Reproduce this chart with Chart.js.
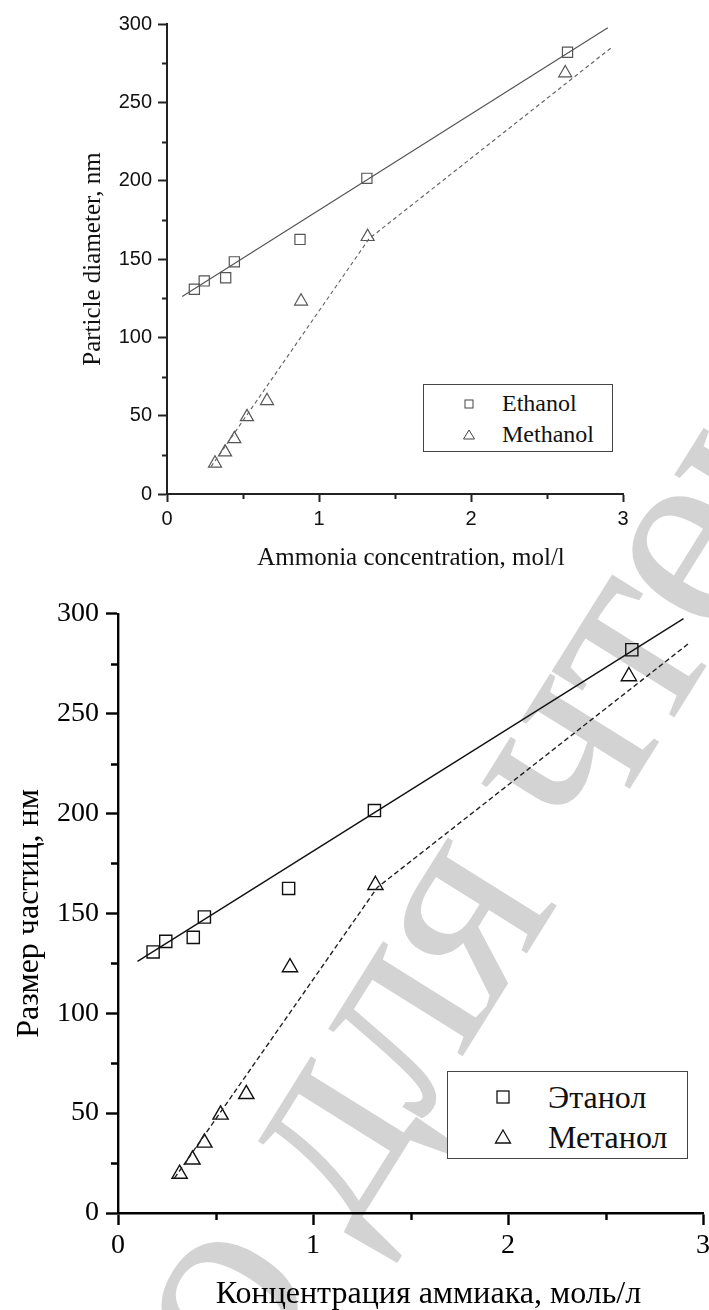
<!DOCTYPE html>
<html lang="ru">
<head>
<meta charset="utf-8">
<title>Particle diameter vs ammonia concentration</title>
<script src="https://cdn.jsdelivr.net/npm/chart.js@4.4.1/dist/chart.umd.min.js"></script>
<style>
    html, body { margin: 0; padding: 0; background: #fff; }
    body { position: relative; width: 709px; height: 1310px; overflow: hidden; }
    .watermark {
        position: absolute; left: 515px; top: 795px; z-index: 0;
        transform: translate(-50%, -50%) rotate(-58deg);
        font-family: "Liberation Serif", serif; font-size: 280px; line-height: 1;
        letter-spacing: -8px; color: #d3d3d3; white-space: nowrap;
    }
    canvas { position: absolute; left: 0; z-index: 1; }
    #chartTop { top: 0; }
    #chartBottom { top: 590px; }
    .legend {
        position: absolute; z-index: 2; box-sizing: border-box;
        background: #fff; border: 1px solid #444;
        font-family: "Liberation Serif", serif; color: #111;
    }
    .legend .item { display: flex; align-items: center; }
    .legend svg { display: block; }
    #legendTop { left: 423px; top: 384px; width: 190px; height: 68px; padding: 3px 0 0 38px; font-size: 24px; }
    #legendTop .item { height: 31px; }
    #legendTop span { margin-left: 26px; }
    #legendBottom { left: 447px; top: 1071px; width: 241px; height: 88px; padding: 5px 0 0 46px; font-size: 32px; }
    #legendBottom .item { height: 40px; }
    #legendBottom span { margin-left: 36px; }
</style>
</head>
<body>
<div class="watermark">го для чтения</div>
<canvas id="chartTop" width="720" height="590"></canvas>
<canvas id="chartBottom" width="720" height="720"></canvas>

<div class="legend" id="legendTop">
    <div class="item"><svg width="14" height="14"><rect x="3" y="3" width="8" height="8" fill="none" stroke="#444" stroke-width="1"/></svg><span>Ethanol</span></div>
    <div class="item"><svg width="14" height="14"><polygon points="7,2 12.5,11 1.5,11" fill="none" stroke="#444" stroke-width="1"/></svg><span>Methanol</span></div>
</div>
<div class="legend" id="legendBottom">
    <div class="item"><svg width="18" height="18"><rect x="3" y="3" width="12" height="12" fill="none" stroke="#111" stroke-width="1.3"/></svg><span>Этанол</span></div>
    <div class="item"><svg width="18" height="18"><polygon points="9,2 16.5,15 1.5,15" fill="none" stroke="#111" stroke-width="1.3"/></svg><span>Метанол</span></div>
</div>

<script>
// Data (both charts show the same measurements)
const concEthanol = [0.18, 0.245, 0.386, 0.443, 0.875, 1.315, 2.635];
const sizeEthanol = [130.7, 136, 138, 148.2, 162.5, 201.5, 282];
const concMethanol = [0.316, 0.382, 0.443, 0.526, 0.658, 0.882, 1.32, 2.62];
const sizeMethanol = [19.6, 26.7, 35.2, 49.2, 59.5, 123, 164.2, 268.7];

// fitted lines
const fitEthanolX = [0.1, 2.9];
const fitEthanolY = [126, 297.6];
const fitMethanolX = [0.29, 1.33, 2.93];
const fitMethanolY = [17.5, 163, 285.4];

// ticks
const xTicks = [0, 1, 2, 3];
const yTicks = [0, 50, 100, 150, 200, 250, 300];
const xMinor = [0.5, 1.5, 2.5];
const yMinor = [25, 75, 125, 175, 225, 275];

function toPoints(xs, ys) {
    return xs.map((x, i) => ({ x: x, y: ys[i] }));
}

// Minor ticks drawn outside the axes, on the library scales
const minorTicks = {
    id: 'minorTicks',
    afterDraw(chart, args, o) {
        const { ctx, scales: { x, y } } = chart;
        ctx.save();
        ctx.strokeStyle = o.color;
        ctx.lineWidth = o.width;
        ctx.beginPath();
        xMinor.forEach(v => {
            const px = Math.round(x.getPixelForValue(v)) + 0.5;
            ctx.moveTo(px, x.top);
            ctx.lineTo(px, x.top + o.length);
        });
        yMinor.forEach(v => {
            const py = Math.round(y.getPixelForValue(v)) + 0.5;
            ctx.moveTo(y.right, py);
            ctx.lineTo(y.right - o.length, py);
        });
        ctx.stroke();
        ctx.restore();
    }
};

// x axis title (sits a little right of the axis centre in the original)
const xTitle = {
    id: 'xTitle',
    afterDraw(chart, args, o) {
        const { ctx, scales: { x } } = chart;
        ctx.save();
        ctx.font = o.font;
        ctx.fillStyle = o.color;
        ctx.textAlign = 'center';
        ctx.textBaseline = 'alphabetic';
        ctx.fillText(o.text, (x.left + x.right) / 2 + o.shift, x.top + o.baseline);
        ctx.restore();
    }
};

function buildChart(canvasId, s) {
    return new Chart(document.getElementById(canvasId), {
        type: 'scatter',
        data: {
            datasets: [
                {
                    label: 'fit1',
                    data: toPoints(fitEthanolX, fitEthanolY),
                    showLine: true,
                    borderColor: s.lineColor,
                    borderWidth: s.lineWidth,
                    pointRadius: 0
                },
                {
                    label: 'fit2',
                    data: toPoints(fitMethanolX, fitMethanolY),
                    showLine: true,
                    borderColor: s.dashColor,
                    borderWidth: s.lineWidth,
                    borderDash: s.dash,
                    pointRadius: 0
                },
                {
                    label: s.names[0],
                    data: toPoints(concEthanol, sizeEthanol),
                    pointStyle: 'rect',
                    pointRadius: s.rectR,
                    borderColor: s.markColor,
                    borderWidth: s.markWidth,
                    backgroundColor: 'rgba(0,0,0,0)'
                },
                {
                    label: s.names[1],
                    data: toPoints(concMethanol, sizeMethanol),
                    pointStyle: 'triangle',
                    pointRadius: s.triR,
                    borderColor: s.markColor,
                    borderWidth: s.markWidth,
                    backgroundColor: 'rgba(0,0,0,0)'
                }
            ]
        },
        options: {
            responsive: false,
            animation: false,
            devicePixelRatio: 1,
            events: [],
            layout: { padding: s.padding },
            plugins: {
                legend: { display: false },
                tooltip: { enabled: false },
                minorTicks: { color: s.axisColor, width: s.tickWidth, length: s.minorLen },
                xTitle: { text: s.xTitle, font: s.titleFont, color: s.textColor, shift: s.xTitleShift, baseline: s.xTitleBaseline }
            },
            scales: {
                x: {
                    type: 'linear',
                    min: 0, max: 3,
                    afterBuildTicks: sc => { sc.ticks = xTicks.map(v => ({ value: v })); },
                    afterFit: sc => { sc.height = s.xHeight; },
                    ticks: { font: s.tickFont, color: s.textColor, padding: s.xTickPad, maxRotation: 0, autoSkip: false },
                    grid: { drawOnChartArea: false, tickLength: s.xTickLen, tickWidth: s.tickWidth, color: s.axisColor },
                    border: { display: true, color: s.axisColor, width: s.axisWidth }
                },
                y: {
                    type: 'linear',
                    min: 0, max: 300,
                    afterBuildTicks: sc => { sc.ticks = yTicks.map(v => ({ value: v })); },
                    afterFit: sc => { sc.width = s.yWidth; },
                    ticks: { font: s.tickFont, color: s.textColor, padding: s.yTickPad, autoSkip: false },
                    grid: { drawOnChartArea: false, tickLength: s.yTickLen, tickWidth: s.tickWidth, color: s.axisColor },
                    border: { display: true, color: s.axisColor, width: s.axisWidth },
                    title: {
                        display: true,
                        text: s.yTitle,
                        color: s.textColor,
                        font: { family: s.titleFamily, size: s.titleSize },
                        padding: { top: s.yTitlePad, bottom: 0 }
                    }
                }
            }
        },
        plugins: [minorTicks, xTitle]
    });
}

// English version (top)
buildChart('chartTop', {
    names: ['Ethanol', 'Methanol'],
    xTitle: 'Ammonia concentration, mol/l',
    yTitle: 'Particle diameter, nm',
    padding: { top: 24, right: 97, left: 0, bottom: 0 },
    yWidth: 167, xHeight: 96,
    tickFont: { family: '"Liberation Sans", Arial, sans-serif', size: 20 },
    titleFamily: '"Liberation Serif", "Times New Roman", serif', titleSize: 25,
    titleFont: '25px "Liberation Serif", "Times New Roman", serif',
    xTitleShift: 16, xTitleBaseline: 71, yTitlePad: 78,
    textColor: '#111', axisColor: '#222', axisWidth: 2, tickWidth: 2,
    xTickLen: 8, yTickLen: 9, minorLen: 5, xTickPad: 5, yTickPad: 6,
    lineColor: '#555', dashColor: '#666', lineWidth: 1.2, dash: [4, 3],
    markColor: '#555', markWidth: 1.2, rectR: 7.2, triR: 7.5
});

// Russian version (bottom)
buildChart('chartBottom', {
    names: ['Этанол', 'Метанол'],
    xTitle: 'Концентрация аммиака, моль/л',
    yTitle: 'Размер частиц, нм',
    padding: { top: 16, right: 17, left: 0, bottom: 0 },
    yWidth: 118, xHeight: 97,
    tickFont: { family: '"Liberation Serif", "Times New Roman", serif', size: 28 },
    titleFamily: '"Liberation Serif", "Times New Roman", serif', titleSize: 32,
    titleFont: '32px "Liberation Serif", "Times New Roman", serif',
    xTitleShift: 18, xTitleBaseline: 90, yTitlePad: 10,
    textColor: '#000', axisColor: '#000', axisWidth: 2.4, tickWidth: 2.4,
    xTickLen: 12, yTickLen: 12, minorLen: 7, xTickPad: 4, yTickPad: 7,
    lineColor: '#111', dashColor: '#222', lineWidth: 1.4, dash: [5, 3],
    markColor: '#111', markWidth: 1.4, rectR: 8.6, triR: 8.8
});
</script>
</body>
</html>
